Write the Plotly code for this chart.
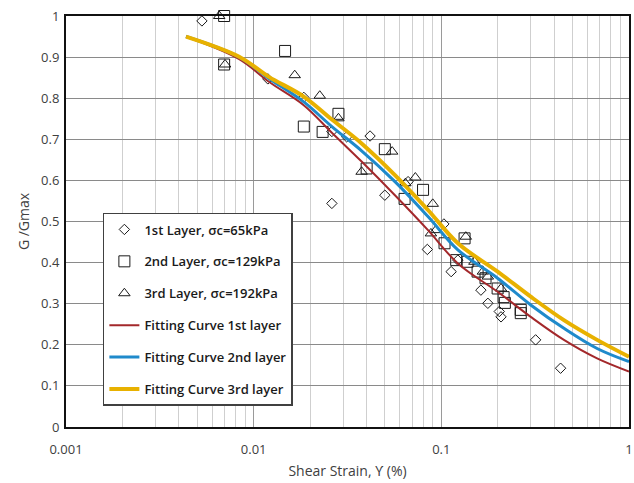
import plotly.graph_objects as go

# ---- data ----
l1_x = [0.0053, 0.0119, 0.0185, 0.0261, 0.0261, 0.0313, 0.0417, 0.050, 0.0665, 0.0842,
        0.1032, 0.1128, 0.1225, 0.1625, 0.177, 0.2036, 0.208, 0.318, 0.432]
l1_y = [0.988, 0.847, 0.802, 0.719, 0.544, 0.706, 0.708, 0.564, 0.597, 0.432,
        0.494, 0.378, 0.406, 0.333, 0.301, 0.281, 0.268, 0.212, 0.143]

l2_x = [0.00696, 0.00696, 0.0147, 0.0185, 0.0233, 0.0283, 0.040, 0.050, 0.0637, 0.0799,
        0.104, 0.120, 0.133, 0.138, 0.156, 0.172, 0.1995, 0.2147, 0.218, 0.265, 0.265]
l2_y = [1.0, 0.882, 0.915, 0.731, 0.718, 0.762, 0.629, 0.676, 0.555, 0.577,
        0.447, 0.406, 0.459, 0.402, 0.378, 0.362, 0.337, 0.316, 0.302, 0.285, 0.277]

l3_x = [0.00655, 0.00704, 0.01655, 0.0225, 0.0283, 0.0376, 0.0547, 0.0643, 0.0727, 0.088,
        0.090, 0.0936, 0.135, 0.150, 0.1665, 0.177, 0.208]
l3_y = [1.0, 0.882, 0.856, 0.806, 0.751, 0.621, 0.670, 0.593, 0.607, 0.471,
        0.543, 0.479, 0.463, 0.402, 0.378, 0.366, 0.337]

curve_x = [0.00436, 0.00837, 0.01205, 0.01848, 0.0261, 0.0376, 0.0566, 0.0849,
           0.1225, 0.1995, 0.2995, 0.45, 0.676, 1.0]
fit1_y = [0.950, 0.895, 0.840, 0.783, 0.716, 0.646, 0.564, 0.479,
          0.398, 0.329, 0.268, 0.212, 0.167, 0.135]
fit2_y = [0.950, 0.900, 0.848, 0.791, 0.731, 0.672, 0.597, 0.512,
          0.431, 0.362, 0.297, 0.240, 0.191, 0.159]
fit3_y = [0.950, 0.901, 0.852, 0.804, 0.748, 0.690, 0.613, 0.528,
          0.447, 0.378, 0.317, 0.260, 0.212, 0.171]

names = ["1st Layer, σc=65kPa", "2nd Layer, σc=129kPa", "3rd Layer, σc=192kPa",
         "Fitting Curve 1st layer", "Fitting Curve 2nd layer", "Fitting Curve 3rd layer"]

x_tickvals = [0.001, 0.01, 0.1, 1]
x_ticktext = ["0.001", "0.01", "0.1", "1"]

fig = go.Figure()
mk_line = dict(color="#1a1a1a", width=1)
fig.add_trace(go.Scatter(x=l1_x, y=l1_y, mode="markers", name=names[0], legendgroup="a",
                         marker=dict(symbol="diamond-open", size=8, line=mk_line, color="#1a1a1a"),
                         cliponaxis=False))
fig.add_trace(go.Scatter(x=l2_x, y=l2_y, mode="markers", name=names[1], legendgroup="b",
                         marker=dict(symbol="square-open", size=11, line=mk_line, color="#1a1a1a"),
                         cliponaxis=False))
fig.add_trace(go.Scatter(x=l3_x, y=l3_y, mode="markers", name=names[2], legendgroup="c",
                         marker=dict(symbol="triangle-up-open", size=10, line=mk_line, color="#1a1a1a"),
                         cliponaxis=False))
fig.add_trace(go.Scatter(x=curve_x, y=fit1_y, mode="lines", name=names[3], legendgroup="d",
                         line=dict(color="#A3282B", width=2, shape="spline")))
fig.add_trace(go.Scatter(x=curve_x, y=fit2_y, mode="lines", name=names[4], legendgroup="e",
                         line=dict(color="#1F8ACB", width=3, shape="spline")))
fig.add_trace(go.Scatter(x=curve_x, y=fit3_y, mode="lines", name=names[5], legendgroup="f",
                         line=dict(color="#E8B100", width=4, shape="spline")))

minor_vals = [d * 10 ** e for e in (-3, -2, -1) for d in range(2, 10)]

fig.update_layout(
    width=634, height=483,
    margin=dict(l=66, r=5, t=16, b=56),
    paper_bgcolor="white", plot_bgcolor="white",
    font=dict(family="Open Sans", size=13, color="#404040"),
    showlegend=True,
    legend=dict(x=0.0655, y=0.5207, xanchor="left", yanchor="top",
                bgcolor="white", bordercolor="#404040", borderwidth=1.5,
                font=dict(family="Open Sans", size=13, color="#1a1a1a", weight=600),
                tracegroupgap=12, itemwidth=30),
    xaxis=dict(type="log", range=[-3, 0], tickvals=x_tickvals, ticktext=x_ticktext,
               showgrid=True, gridcolor="#9a9a9a", gridwidth=1,
               minor=dict(tickvals=minor_vals, showgrid=True, gridcolor="#cfcfcf", gridwidth=1, ticklen=0),
               showline=True, linecolor="#111111", linewidth=2, mirror=True,
               ticks="", zeroline=False, ticklabelstandoff=9, automargin=False,
               title=dict(text="Shear Strain, ϒ (%)", font=dict(size=14, color="#404040"), standoff=10)),
    yaxis=dict(range=[0, 1], dtick=0.1, tick0=0,
               showgrid=True, gridcolor="#8a8a8a", gridwidth=1,
               showline=True, linecolor="#111111", linewidth=2, mirror=True,
               ticks="", zeroline=False, ticklabelstandoff=2, automargin=False,
               title=dict(text="G /Gmax", font=dict(size=14, color="#404040"), standoff=8)),
)

fig.write_html("out.html")
